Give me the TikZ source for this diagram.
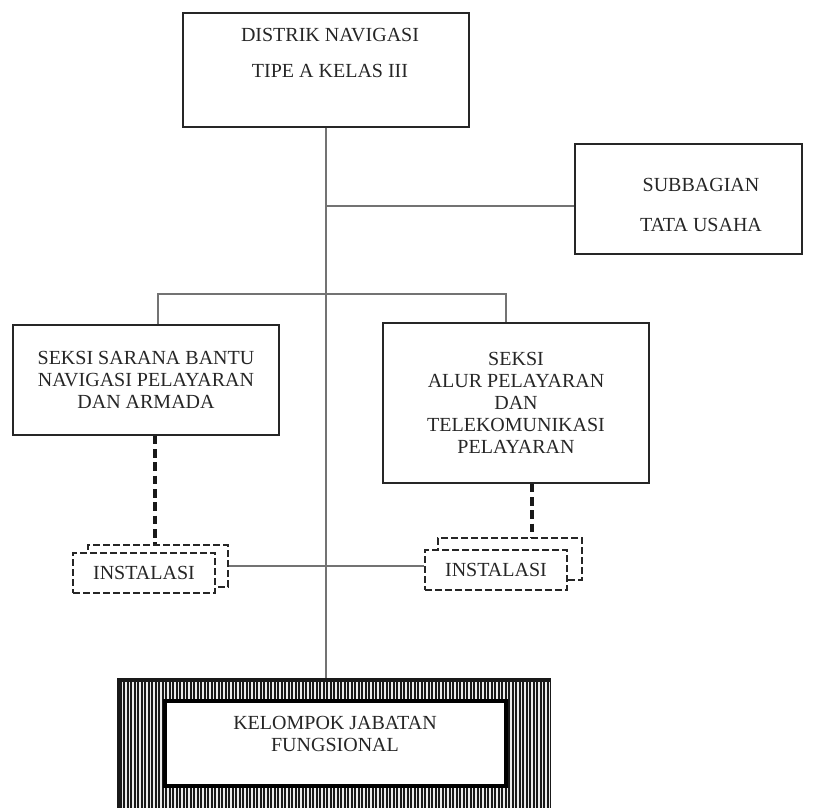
\documentclass[tikz,border=0pt]{standalone}
\usepackage{fontspec}
\setmainfont{Liberation Serif}
\usepackage{tikz}
\usetikzlibrary{shapes,positioning}
\newcommand{\unitfont}{\fontsize{15}{16.5}\selectfont}
\tikzstyle{unit} = [rectangle, draw=black!85, line width=1pt, inner sep=0pt, align=center, font=\unitfont, text=black!85]
\tikzstyle{txt} = [align=center, font=\unitfont, text=black!85]
\tikzstyle{line} = [draw, black!55, line width=0.8pt]
\tikzstyle{dline} = [draw, black!90, line width=2.6pt, dash pattern=on 6.5pt off 3.5pt]
\tikzstyle{inst} = [rectangle, draw=black!85, line width=1.3pt, dash pattern=on 5pt off 2.5pt, inner sep=0pt, align=center, font=\unitfont, text=black!85]

\begin{document}
\begin{tikzpicture}[x=0.75pt, y=-0.75pt]
        \useasboundingbox (0,0) rectangle (816,808);

        \node[unit, minimum width=214.5pt, minimum height=85.5pt] (distrik) at (326,70) {};
        \node[txt] (distrik-t) at (330,53) {DISTRIK NAVIGASI\\[11pt] TIPE A KELAS III};
        \node[unit, minimum width=170.25pt, minimum height=82.5pt] (sub) at (688.5,199) {};
        \node[txt] (sub-t) at (701,205) {SUBBAGIAN\\[13.5pt] TATA USAHA};

        \node[unit, minimum width=199.5pt, minimum height=82.5pt] (seksi1) at (146,380)
             {SEKSI SARANA BANTU\\NAVIGASI PELAYARAN\\DAN ARMADA};
        \node[unit, minimum width=199.5pt, minimum height=120pt] (seksi2) at (516,403)
             {SEKSI\\ALUR PELAYARAN\\DAN\\TELEKOMUNIKASI\\PELAYARAN};

        % instalasi, two dashed boxes each
        \node[inst, minimum width=105pt, minimum height=31.5pt] (inst1b) at (158,566) {};
        \node[inst, minimum width=106.5pt, minimum height=30pt, fill=white] (inst1) at (144,573) {INSTALASI};
        \node[inst, minimum width=108pt, minimum height=31.5pt] (inst2b) at (510,559) {};
        \node[inst, minimum width=106.5pt, minimum height=30pt, fill=white] (inst2) at (496,570) {INSTALASI};

        % kelompok jabatan fungsional, hatched frame
        \fill[black!90] (117,678) rectangle (551,808);
        \foreach \i in {0,...,122}
            \draw[white!92!black, line width=1.05pt] (122.5+3.5*\i,682) -- (122.5+3.5*\i,808);
        \node[unit, draw=black, line width=3.5pt, fill=white, minimum width=255.75pt, minimum height=63.75pt] (kjf) at (335.5,743.5) {};
        \node[txt] (kjf-t) at (335,734) {KELOMPOK JABATAN\\FUNGSIONAL};

        \coordinate (j1) at (326,206);
        \coordinate (bl) at (158,294);
        \coordinate (br) at (506,294);
        \coordinate (d1) at (155,500);
        \coordinate (d2) at (532,500);

        \path[line] (distrik.south) -- (distrik.south |- 0,678);
        \path[line] (j1) -- (j1 -| sub.west);
        \path[line] (bl |- seksi1.north) |- (br) -- (br |- seksi2.north);
        \path[line] (inst1b.east) -- (inst1b.east -| inst2.west);

        \path[dline] (d1 |- seksi1.south) -- (d1 |- inst1b.north);
        \path[dline] (d2 |- seksi2.south) -- (d2 |- inst2b.north);
\end{tikzpicture}
\end{document}
